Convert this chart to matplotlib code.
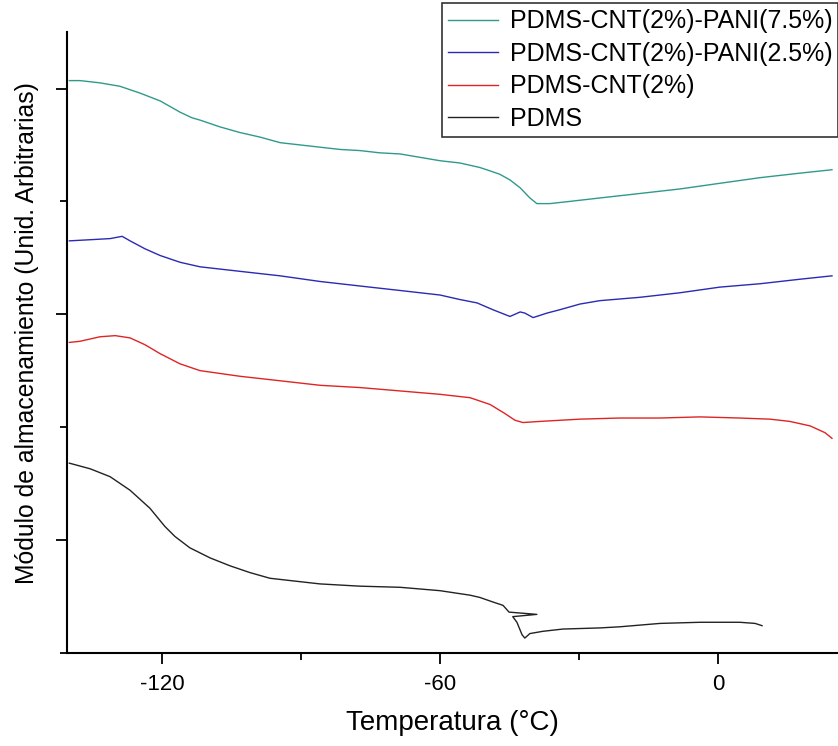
import matplotlib
matplotlib.use('Agg')
import matplotlib.pyplot as plt
from matplotlib.ticker import MultipleLocator, NullFormatter

plt.rcParams['font.family'] = ['Liberation Sans', 'DejaVu Sans']
plt.rcParams['axes.unicode_minus'] = False

# Curvas DMA (módulo de almacenamiento desplazado, unidades arbitrarias)
t_pani75 = [-140, -137.7, -133.4, -129.1, -124.8, -120.4, -116.1, -113.5, -111.8, -107.5,
            -103.2, -98.9, -94.5, -90.2, -85.9, -81.6, -77.3, -73.0, -68.6, -64.3,
            -60.0, -55.7, -51.4, -49.2, -47.1, -44.9, -42.7, -40.6, -39.1, -36.3,
            -31.9, -25.5, -16.8, -8.2, 0.4, 9.1, 17.7, 24.6]
m_pani75 = [5.07, 5.07, 5.05, 5.02, 4.96, 4.89, 4.79, 4.74, 4.72, 4.66,
            4.61, 4.57, 4.52, 4.50, 4.48, 4.46, 4.45, 4.43, 4.42, 4.39,
            4.36, 4.34, 4.30, 4.27, 4.24, 4.19, 4.12, 4.03, 3.98, 3.98,
            4.00, 4.03, 4.07, 4.11, 4.16, 4.21, 4.25, 4.28]

t_pani25 = [-140, -135.5, -131.2, -128.6, -126.9, -123.7, -120.4, -116.1, -111.8, -103.2,
            -94.5, -85.9, -77.3, -68.6, -60.0, -55.7, -52.0, -48.6, -44.9, -43.8,
            -42.7, -41.7, -39.9, -36.9, -34.1, -29.8, -25.5, -16.8, -8.2, 0.4,
            9.1, 17.7, 24.6]
m_pani25 = [3.65, 3.66, 3.67, 3.69, 3.65, 3.58, 3.52, 3.46, 3.42, 3.38,
            3.34, 3.29, 3.25, 3.21, 3.17, 3.13, 3.10, 3.04, 2.98, 3.00,
            3.02, 3.01, 2.97, 3.01, 3.04, 3.09, 3.12, 3.15, 3.19, 3.24,
            3.27, 3.31, 3.34]

t_cnt = [-140, -137.7, -133.4, -130.1, -126.9, -123.7, -120.4, -116.1, -111.8, -103.2,
         -94.5, -85.9, -77.3, -68.6, -60.0, -53.5, -49.2, -46.0, -43.8, -42.1,
         -38.4, -29.8, -21.2, -12.5, -3.9, 4.7, 11.2, 15.5, 19.9, 23.1, 24.6]
m_cnt = [2.75, 2.76, 2.80, 2.81, 2.79, 2.73, 2.65, 2.56, 2.50, 2.45,
         2.41, 2.37, 2.35, 2.32, 2.29, 2.26, 2.20, 2.12, 2.06, 2.04,
         2.05, 2.07, 2.08, 2.08, 2.09, 2.08, 2.07, 2.05, 2.01, 1.95, 1.90]

t_pdms = [-140, -135.5, -131.2, -126.9, -122.6, -119.4, -117.2, -114.0, -109.6, -105.3,
          -101.0, -96.7, -92.4, -85.9, -77.3, -68.6, -60.0, -53.5, -51.4, -48.6,
          -46.4, -45.1, -39.1, -44.3, -43.4, -42.3, -41.7, -40.6, -37.8, -33.5,
          -25.5, -21.2, -12.5, -3.9, 4.7, 8.0, 9.5]
m_pdms = [1.68, 1.63, 1.56, 1.44, 1.28, 1.12, 1.03, 0.93, 0.84, 0.77,
          0.71, 0.66, 0.64, 0.61, 0.59, 0.58, 0.55, 0.51, 0.49, 0.45,
          0.42, 0.36, 0.34, 0.32, 0.27, 0.16, 0.13, 0.17, 0.19, 0.21,
          0.22, 0.23, 0.26, 0.27, 0.27, 0.26, 0.24]

series = [
    (t_pani75, m_pani75, '#2f9a8c', 'PDMS-CNT(2%)-PANI(7.5%)'),
    (t_pani25, m_pani25, '#2a2ab4', 'PDMS-CNT(2%)-PANI(2.5%)'),
    (t_cnt, m_cnt, '#e02424', 'PDMS-CNT(2%)'),
    (t_pdms, m_pdms, '#222222', 'PDMS'),
]

fig = plt.figure(figsize=(8.38, 7.46), dpi=100)
ax = fig.add_axes([0.080, 0.125, 0.920, 0.832])

for t, m, color, label in series:
    ax.plot(t, m, color=color, lw=1.0, label=label)

ax.set_xlim(-140.5, 25.9)
ax.set_ylim(0, 5.5)

ax.xaxis.set_major_locator(MultipleLocator(60))
ax.xaxis.set_minor_locator(MultipleLocator(30))
ax.yaxis.set_major_locator(MultipleLocator(2, offset=1))
ax.yaxis.set_minor_locator(MultipleLocator(1))
ax.yaxis.set_major_formatter(NullFormatter())

for side in ['top', 'right']:
    ax.spines[side].set_visible(False)
for side in ['left', 'bottom']:
    ax.spines[side].set_linewidth(1.5)

ax.tick_params(which='major', direction='out', length=8, width=1.3, labelsize=16, pad=7)
ax.tick_params(which='minor', direction='out', length=5, width=1.3)

ax.set_xlabel('Temperatura (°C)', fontsize=20)
ax.set_ylabel('Módulo de almacenamiento (Unid. Arbitrarias)', fontsize=17.8)
ax.xaxis.set_label_coords(0.5, -0.092)
ax.yaxis.set_label_coords(-0.036, 0.515)

leg = ax.legend(loc='upper left', bbox_to_anchor=(442 / 838, 1 - 3 / 746),
                bbox_transform=fig.transFigure, borderaxespad=0,
                fontsize=18, frameon=True, fancybox=False, framealpha=1,
                borderpad=0.25, labelspacing=0.34, handlelength=2.0,
                handletextpad=0.45)
leg.get_frame().set_edgecolor('#333333')
leg.get_frame().set_linewidth(1.2)

fig.savefig('out.png', dpi=100)
